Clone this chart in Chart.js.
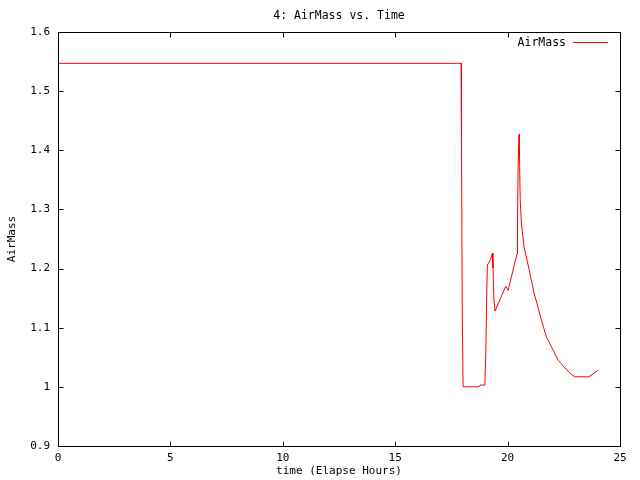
<!DOCTYPE html>
<html>
<head>
<meta charset="utf-8">
<script src="https://cdn.jsdelivr.net/npm/chart.js@4"></script>
<style>
  body { margin: 0; background: #fff; }
</style>
</head>
<body>
<canvas id="airmass-chart" width="640" height="480"></canvas>
<script>
// elapsed hours and air mass
const times = [0, 17.93, 17.95, 17.98, 18.02, 18.72, 18.77, 18.99, 19.03, 19.07, 19.10, 19.24, 19.32, 19.35, 19.39, 19.44,
    19.69, 19.92, 20.02, 20.42, 20.44, 20.47, 20.51, 20.53, 20.56, 20.62, 20.73, 20.96, 21.18, 21.33, 21.48, 21.73,
    22.03, 22.25, 22.55, 22.77, 22.99, 23.62, 24.02];
const airmass = [1.547, 1.547, 1.412, 1.137, 1.0, 1.0, 1.003, 1.003, 1.055, 1.154, 1.206, 1.215, 1.226, 1.201, 1.150, 1.128,
    1.150, 1.170, 1.163, 1.225, 1.279, 1.377, 1.427, 1.39, 1.316, 1.274, 1.237, 1.198, 1.158, 1.138, 1.116, 1.084,
    1.062, 1.045, 1.032, 1.023, 1.017, 1.017, 1.028];
const xTicks = [0, 5, 10, 15, 20, 25];
const yTicks = [0.9, 1.0, 1.1, 1.2, 1.3, 1.4, 1.5, 1.6];

const monoFont = "'DejaVu Sans Mono', monospace";

const gnuplotFrame = {
    id: "gnuplotFrame",
    beforeDraw(chart) {
        const ctx = chart.ctx;
        ctx.save();
        ctx.fillStyle = "#fff";
        ctx.fillRect(0, 0, chart.width, chart.height);
        ctx.restore();
    },
    afterDraw(chart) {
        const ctx = chart.ctx;
        const a = chart.chartArea;
        const xs = chart.scales.x;
        const ys = chart.scales.y;
        const l = Math.round(a.left) + 0.5, r = Math.round(a.right) + 0.5;
        const t = Math.round(a.top) + 0.5, b = Math.round(a.bottom) + 0.5;
        ctx.save();
        ctx.strokeStyle = "#000";
        ctx.lineWidth = 1;
        ctx.strokeRect(l, t, r - l, b - t);
        ctx.beginPath();
        xTicks.forEach(v => {
            const px = Math.round(xs.getPixelForValue(v)) + 0.5;
            ctx.moveTo(px, b); ctx.lineTo(px, b - 5);
            ctx.moveTo(px, t); ctx.lineTo(px, t + 5);
        });
        yTicks.forEach(v => {
            const py = Math.round(ys.getPixelForValue(v)) + 0.5;
            ctx.moveTo(l, py); ctx.lineTo(l + 5, py);
            ctx.moveTo(r, py); ctx.lineTo(r - 5, py);
        });
        ctx.stroke();

        // title
        ctx.fillStyle = "#000";
        ctx.font = "11.5px " + monoFont;
        ctx.textAlign = "center";
        ctx.textBaseline = "middle";
        ctx.fillText("4: AirMass vs. Time", (a.left + a.right) / 2, 16);

        // legend
        ctx.textAlign = "right";
        ctx.fillText("AirMass", 566, 43);
        ctx.strokeStyle = "#ff0000";
        ctx.beginPath();
        ctx.moveTo(573, 42.5);
        ctx.lineTo(608, 42.5);
        ctx.stroke();
        ctx.restore();
    }
};

const airmassData = {
    datasets: [
        {
            label: "AirMass",
            data: times.map((t, i) => ({ x: t, y: airmass[i] })),
            borderColor: "#ff0000",
            borderWidth: 1,
            pointRadius: 0,
            tension: 0,
            fill: false,
        },
    ],
};

const airmassConfig = {
    type: "line",
    data: airmassData,
    options: {
        responsive: false,
        animation: false,
        layout: { padding: { top: 32, right: 20, left: 0, bottom: 0 } },
        plugins: {
            legend: { display: false },
            title: { display: false },
            tooltip: { enabled: false },
        },
        scales: {
            x: {
                type: "linear",
                min: 0,
                max: 25,
                afterFit: s => { s.height = 34; },
                afterBuildTicks: s => { s.ticks = xTicks.map(v => ({ value: v })); },
                grid: { display: false, drawTicks: false },
                border: { display: false },
                ticks: {
                    color: "#000",
                    padding: 6,
                    maxRotation: 0,
                    font: { family: monoFont, size: 11 },
                    callback: v => String(v),
                },
                title: {
                    display: true,
                    text: "time (Elapse Hours)",
                    color: "#000",
                    padding: { top: 0, bottom: 2 },
                    font: { family: monoFont, size: 11 },
                },
            },
            y: {
                type: "linear",
                min: 0.9,
                max: 1.6,
                afterFit: s => { s.width = 58; },
                afterBuildTicks: s => { s.ticks = yTicks.map(v => ({ value: v })); },
                grid: { display: false, drawTicks: false },
                border: { display: false },
                ticks: {
                    color: "#000",
                    padding: 8,
                    font: { family: monoFont, size: 11 },
                    callback: v => String(Math.round(v * 10) / 10),
                },
                title: {
                    display: true,
                    text: "AirMass",
                    color: "#000",
                    padding: { top: 6, bottom: 0 },
                    font: { family: monoFont, size: 11 },
                },
            },
        },
    },
    plugins: [gnuplotFrame],
};

const airmassChart = new Chart(document.getElementById("airmass-chart"), airmassConfig);
</script>
</body>
</html>
